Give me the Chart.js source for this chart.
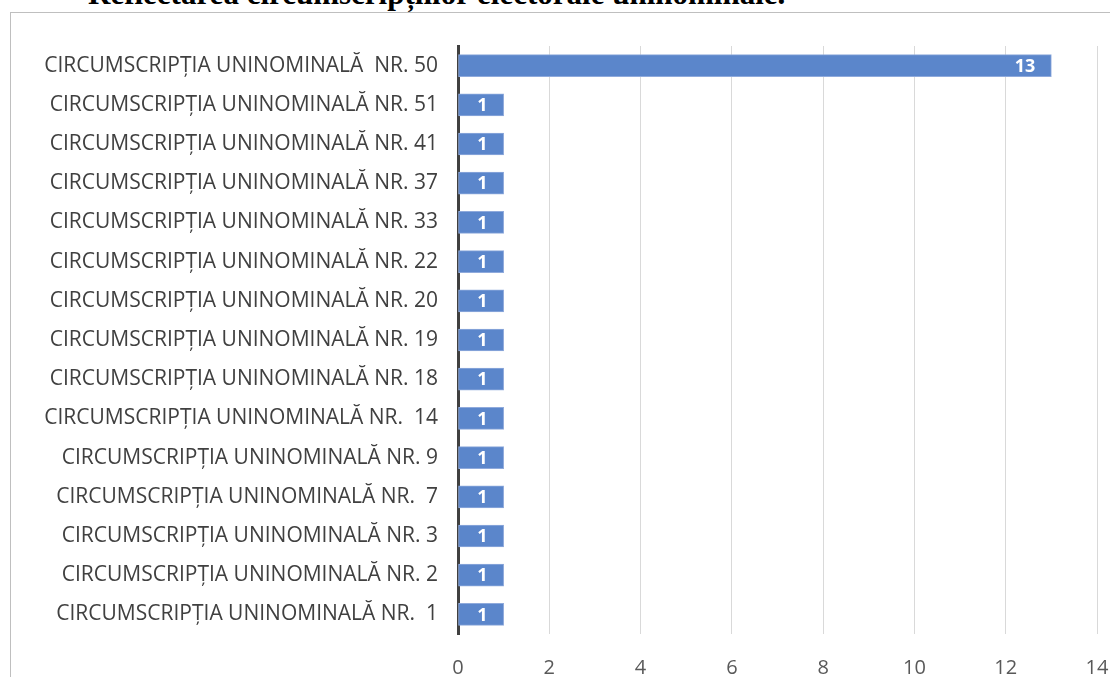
<!DOCTYPE html>
<html>
<head>
<meta charset="utf-8">
<script src="https://cdn.jsdelivr.net/npm/chart.js@4/dist/chart.umd.min.js"></script>
<style>
  html, body { margin: 0; padding: 0; background: #fff; overflow: hidden; }
  #wrap { position: relative; width: 1110px; height: 677px; }
  #titlu {
    position: absolute; left: 88px; top: -22px;
    font-family: "Liberation Serif", "Times New Roman", serif;
    font-weight: bold; font-size: 31px; line-height: 31px; color: #000; white-space: nowrap;
  }
  #cadru {
    position: absolute; left: 10px; top: 12px; width: 1110px; height: 700px;
    border: 1px solid #bfbfbf; box-sizing: border-box;
  }
  #grafic { position: absolute; left: 0; top: 0; }
</style>
</head>
<body>
<div id="wrap">
  <div id="titlu">Reflectarea circumscripțiilor electorale uninominale.</div>
  <div id="cadru"></div>
  <canvas id="grafic" width="1110" height="677"></canvas>
</div>
<script>
// categoriile (de sus in jos)
const circumscriptii = [
  'CIRCUMSCRIPȚIA UNINOMINALĂ  NR. 50',
  'CIRCUMSCRIPȚIA UNINOMINALĂ NR. 51',
  'CIRCUMSCRIPȚIA UNINOMINALĂ NR. 41',
  'CIRCUMSCRIPȚIA UNINOMINALĂ NR. 37',
  'CIRCUMSCRIPȚIA UNINOMINALĂ NR. 33',
  'CIRCUMSCRIPȚIA UNINOMINALĂ NR. 22',
  'CIRCUMSCRIPȚIA UNINOMINALĂ NR. 20',
  'CIRCUMSCRIPȚIA UNINOMINALĂ NR. 19',
  'CIRCUMSCRIPȚIA UNINOMINALĂ NR. 18',
  'CIRCUMSCRIPȚIA UNINOMINALĂ NR.  14',
  'CIRCUMSCRIPȚIA UNINOMINALĂ NR. 9',
  'CIRCUMSCRIPȚIA UNINOMINALĂ NR.  7',
  'CIRCUMSCRIPȚIA UNINOMINALĂ NR. 3',
  'CIRCUMSCRIPȚIA UNINOMINALĂ NR. 2',
  'CIRCUMSCRIPȚIA UNINOMINALĂ NR.  1'
];

// valorile
const valori = [13, 1, 1, 1, 1, 1, 1, 1, 1, 1, 1, 1, 1, 1, 1];

// axa X
const axaMin = 0;
const axaMax = 14;
const pasAxa = 2;

const fontText = '"Open Sans", "Noto Sans", sans-serif';

// eticheta cu valoarea, in interiorul barei, la capat
const eticheteValori = {
  id: 'eticheteValori',
  afterDatasetsDraw(chart) {
    const ctx = chart.ctx;
    const meta = chart.getDatasetMeta(0);
    ctx.save();
    ctx.fillStyle = '#ffffff';
    ctx.font = 'bold 18px ' + fontText;
    ctx.textAlign = 'right';
    ctx.textBaseline = 'middle';
    meta.data.forEach((bar, i) => {
      ctx.fillText(String(valori[i]), bar.x - 16, bar.y + 1);
    });
    ctx.restore();
  }
};

new Chart(document.getElementById('grafic'), {
  type: 'bar',
  data: {
    labels: circumscriptii,
    datasets: [{
      data: valori,
      backgroundColor: '#5b86cb',
      borderColor: '#8faadc',
      borderWidth: 1,
      borderSkipped: false,
      barThickness: 22
    }]
  },
  options: {
    indexAxis: 'y',
    responsive: false,
    animation: false,
    layout: { padding: { top: 46, right: 0, left: 0, bottom: 0 } },
    plugins: {
      legend: { display: false },
      tooltip: { enabled: false }
    },
    scales: {
      x: {
        min: axaMin,
        max: axaMax,
        ticks: {
          stepSize: pasAxa,
          color: '#595959',
          font: { family: fontText, size: 20 },
          padding: 22
        },
        grid: { color: '#d9d9d9', lineWidth: 1, drawTicks: false },
        border: { display: false },
        afterFit(scale) { scale.height = 43; scale.paddingRight = 13; }
      },
      y: {
        ticks: {
          color: '#404040',
          font: { family: fontText, size: 21 },
          padding: 20,
          autoSkip: false
        },
        grid: { display: false, drawTicks: false },
        border: { display: true, color: '#404040', width: 3 },
        afterFit(scale) { scale.width = 458; }
      }
    }
  },
  plugins: [eticheteValori]
});
</script>
</body>
</html>
